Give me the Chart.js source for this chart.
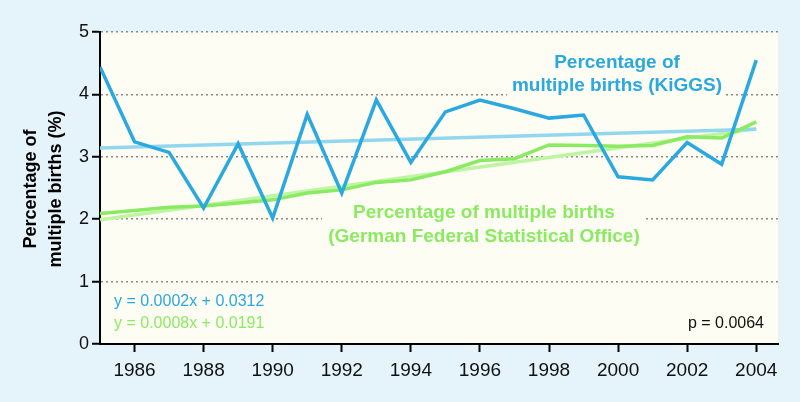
<!DOCTYPE html>
<html>
<head>
<meta charset="utf-8">
<script src="https://cdn.jsdelivr.net/npm/chart.js@4.4.0/dist/chart.umd.min.js"></script>
<style>
  html, body { margin: 0; padding: 0; background: #e5f3fa; }
  #wrap { width: 800px; height: 402px; }
</style>
</head>
<body>
<div id="wrap"><canvas id="chart" width="800" height="402"></canvas></div>
<script>
const years = [1985, 1986, 1987, 1988, 1989, 1990, 1991, 1992, 1993, 1994,
               1995, 1996, 1997, 1998, 1999, 2000, 2001, 2002, 2003, 2004];
const kiggs = [4.44, 3.24, 3.07, 2.18, 3.21, 2.02, 3.68, 2.42, 3.91, 2.91,
               3.72, 3.91, 3.77, 3.62, 3.67, 2.68, 2.63, 3.23, 2.88, 4.55];
const destatis = [2.09, 2.14, 2.19, 2.21, 2.26, 2.31, 2.42, 2.47, 2.59, 2.63,
                  2.76, 2.94, 2.97, 3.19, 3.18, 3.17, 3.18, 3.32, 3.30, 3.56];
const trendYears = [1985, 2004];
const kiggsTrend = [3.14, 3.44];
const destatisTrend = [1.99, 3.45];
const xTicks = [1986, 1988, 1990, 1992, 1994, 1996, 1998, 2000, 2002, 2004];
const yTicks = [0, 1, 2, 3, 4, 5];

const BLUE = '#2aa8e0';
const GREEN = '#8aeb62';
const FONT = "'Liberation Sans', Arial, sans-serif";

const toPoints = (xs, ys) => xs.map((x, i) => ({ x: x, y: ys[i] }));

const decor = {
  id: 'decor',
  beforeDraw(chart) {
    const { ctx, chartArea: a } = chart;
    ctx.save();
    ctx.fillStyle = '#fdfdf3';
    ctx.fillRect(a.left, a.top, a.right - a.left, a.bottom - a.top);
    ctx.restore();
  },
  beforeDatasetsDraw(chart) {
    const { ctx } = chart;
    ctx.save();
    // label boxes hide the grid behind the text
    ctx.fillStyle = '#fdfdf3';
    ctx.fillRect(507, 45, 218, 55);
    ctx.fillRect(322, 198, 324, 52);

    ctx.textAlign = 'center';
    ctx.textBaseline = 'alphabetic';
    ctx.font = 'bold 19px ' + FONT;
    ctx.fillStyle = BLUE;
    ctx.fillText('Percentage of', 617, 68);
    ctx.fillText('multiple births (KiGGS)', 617, 91);
    ctx.fillStyle = GREEN;
    ctx.fillText('Percentage of multiple births', 484, 218);
    ctx.fillText('(German Federal Statistical Office)', 484, 242);

    ctx.textAlign = 'left';
    ctx.font = '16px ' + FONT;
    ctx.fillStyle = BLUE;
    ctx.fillText('y = 0.0002x + 0.0312', 114, 306);
    ctx.fillStyle = GREEN;
    ctx.fillText('y = 0.0008x + 0.0191', 114, 328);
    ctx.textAlign = 'right';
    ctx.fillStyle = '#111';
    ctx.fillText('p = 0.0064', 764, 328);

    // y axis title
    ctx.translate(0, 189);
    ctx.rotate(-Math.PI / 2);
    ctx.textAlign = 'center';
    ctx.font = 'bold 18px ' + FONT;
    ctx.fillStyle = '#000';
    ctx.fillText('Percentage of', 0, 36);
    ctx.fillText('multiple births (%)', 0, 61);
    ctx.restore();
  }
};

new Chart(document.getElementById('chart'), {
  type: 'line',
  data: {
    datasets: [{
      label: 'KiGGS',
      data: toPoints(years, kiggs),
      borderColor: BLUE,
      borderWidth: 3.5,
      pointRadius: 0,
      tension: 0
    }, {
      label: 'German Federal Statistical Office',
      data: toPoints(years, destatis),
      borderColor: GREEN,
      borderWidth: 3.5,
      pointRadius: 0,
      tension: 0
    }, {
      label: 'KiGGS trend',
      data: toPoints(trendYears, kiggsTrend),
      borderColor: '#93d6f0',
      borderWidth: 3.5,
      pointRadius: 0
    }, {
      label: 'Destatis trend',
      data: toPoints(trendYears, destatisTrend),
      borderColor: '#bdf5a2',
      borderWidth: 3.5,
      pointRadius: 0
    }]
  },
  options: {
    responsive: false,
    animation: false,
    layout: { padding: { left: 0, right: 22, top: 32, bottom: 0 } },
    plugins: { legend: { display: false }, tooltip: { enabled: false } },
    scales: {
      x: {
        type: 'linear',
        min: 1985,
        max: 2004.63,
        afterBuildTicks: axis => { axis.ticks = xTicks.map(v => ({ value: v })); },
        afterFit: axis => { axis.height = 58; },
        border: { color: '#000', width: 2 },
        grid: { drawOnChartArea: false, drawTicks: true, tickLength: 8, tickColor: '#000', tickWidth: 2 },
        ticks: {
          color: '#111', font: { family: FONT, size: 19 }, padding: 7, maxRotation: 0, autoSkip: false,
          callback: v => String(v)
        }
      },
      y: {
        min: 0,
        max: 5,
        afterBuildTicks: axis => { axis.ticks = yTicks.map(v => ({ value: v })); },
        afterFit: axis => { axis.width = 100; },
        border: { color: '#000', width: 2, dash: [2, 3] },
        grid: {
          color: c => c.tick.value === 0 ? 'rgba(0,0,0,0)' : '#8a8a8a',
          lineWidth: 1.5,
          tickLength: 8,
          tickColor: '#000',
          tickWidth: 2,
          tickBorderDash: []
        },
        ticks: { color: '#111', font: { family: FONT, size: 18 }, padding: 3 }
      }
    }
  },
  plugins: [decor]
});
</script>
</body>
</html>
